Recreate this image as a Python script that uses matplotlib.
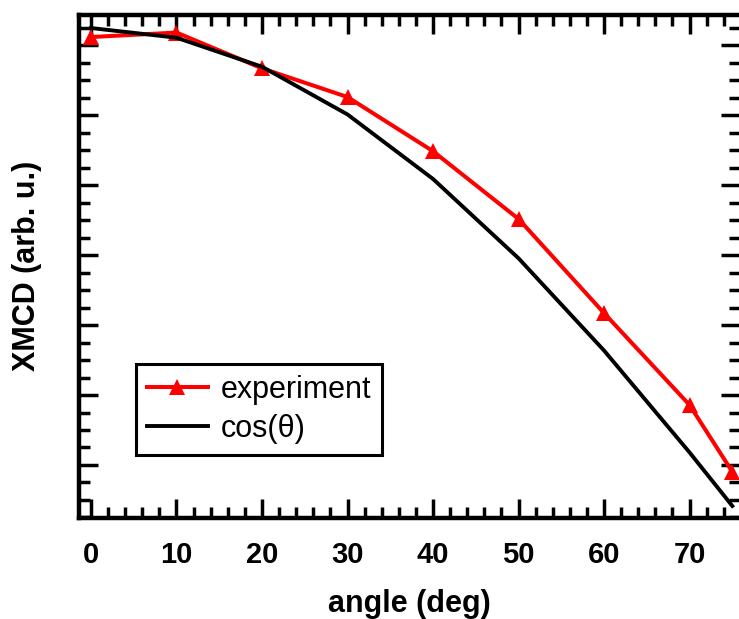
import numpy as np
import matplotlib
matplotlib.use('Agg')
import matplotlib.pyplot as plt
from matplotlib.ticker import MultipleLocator, FixedLocator

# data (y normalised so that cos(0) = 1)
angles = [0, 10, 20, 30, 40, 50, 60, 70, 75]
experiment = [0.986, 0.993, 0.9375, 0.893, 0.809, 0.704, 0.558, 0.4155, 0.312]
cos_theta = [1.0, 0.985, 0.940, 0.866, 0.766, 0.643, 0.500, 0.342, 0.259]

plt.rcParams['font.family'] = ['Liberation Sans', 'DejaVu Sans']

fig = plt.figure(figsize=(7.39, 6.19), dpi=100)
ax = fig.add_axes([79 / 739, 1 - 517.5 / 619, (740 - 79) / 739, (517.5 - 15) / 619])

ax.plot(angles, experiment, color='red', lw=2.9, marker='^', markersize=11,
        markeredgewidth=0, label='experiment')
ax.plot(angles, cos_theta, color='black', lw=2.8, label='cos(\u03b8)')

ax.set_xlim(-1.4, 75.9)
ax.set_ylim(0.2411, 1.0202)

ax.xaxis.set_major_locator(FixedLocator([0, 10, 20, 30, 40, 50, 60, 70]))
ax.xaxis.set_minor_locator(MultipleLocator(2))
ystep = 70 / 645
ax.yaxis.set_major_locator(FixedLocator(0.3225 + ystep * np.arange(-1, 8)))
ax.yaxis.set_minor_locator(FixedLocator(0.3225 + ystep / 4 * np.arange(-4, 28)))

ax.tick_params(which='both', direction='in', top=True, right=True, width=2.5)
ax.tick_params(which='major', length=14)
ax.tick_params(which='minor', length=8)
ax.tick_params(axis='x', labelsize=21, pad=17)
ax.tick_params(axis='y', labelleft=False)
for lab in ax.get_xticklabels():
    lab.set_fontweight('bold')
for sp in ax.spines.values():
    sp.set_linewidth(3.2)

ax.set_xlabel('angle (deg)', fontsize=22, fontweight='bold', labelpad=14)
ax.set_ylabel('XMCD (arb. u.)', fontsize=22, fontweight='bold', labelpad=23)

leg = ax.legend(loc='upper left', bbox_to_anchor=(0.0862, 0.3055), borderaxespad=0,
                fontsize=22, handlelength=2.0, handletextpad=0.42, labelspacing=0.3,
                fancybox=False, framealpha=1, edgecolor='black', borderpad=0.35)
leg.get_frame().set_linewidth(2.2)

fig.savefig('out.png', dpi=100)
